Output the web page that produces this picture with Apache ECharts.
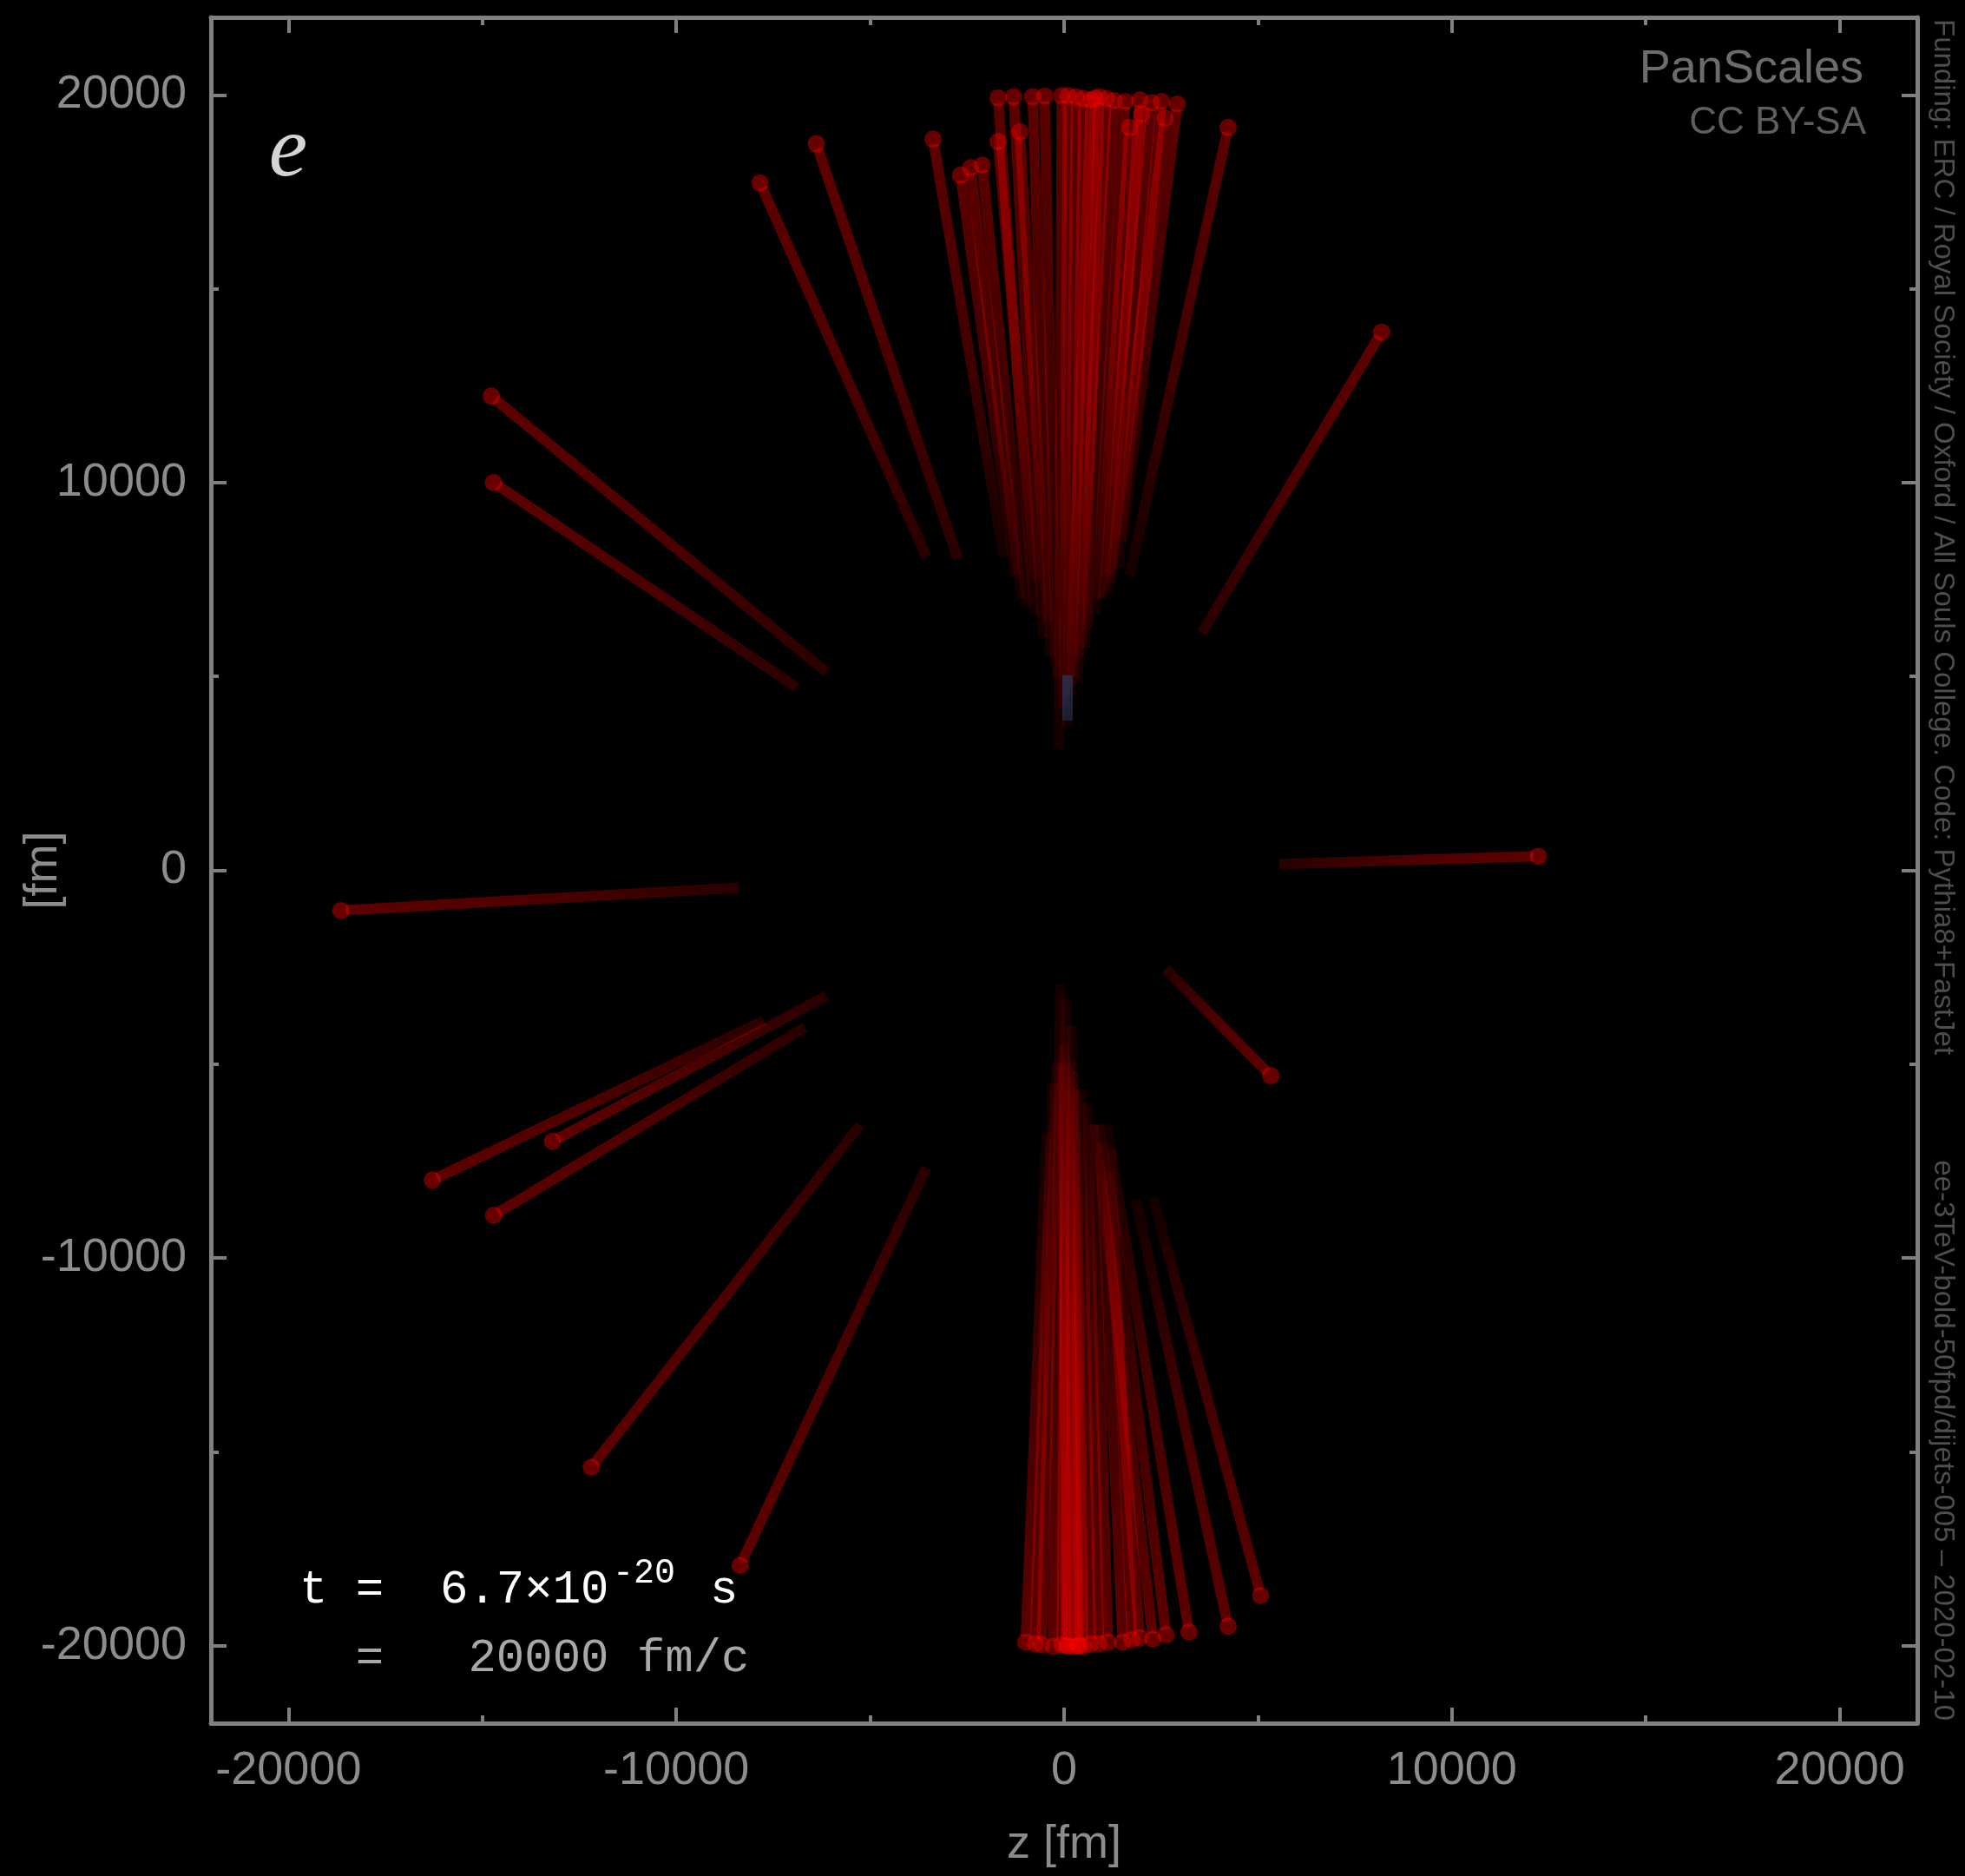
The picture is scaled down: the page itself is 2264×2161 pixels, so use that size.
<!DOCTYPE html>
<html>
<head>
<meta charset="utf-8">
<script src="https://cdn.jsdelivr.net/npm/echarts@6/dist/echarts.min.js"></script>
<style>
html,body{margin:0;padding:0;background:#000;}
#chart{width:2264px;height:2161px;}
</style>
</head>
<body>
<div id="chart"></div>
<script>
// Axis ticks (fm)
const axisMin = -22000;
const axisMax = 22000;
const tickValues = [-20000, -10000, 0, 10000, 20000];

// Tracks: [z_inner, y_inner, z_outer(current), y_outer(current)] in fm
const isolatedTracks = [
  [-8390, -450, -18650, -1040],
  [5550, 160, 12230, 360],
  [-6130, 5110, -14770, 12230],
  [-6900, 4720, -14710, 10000],
  [3550, 6120, 8190, 13880],
  [-3550, 8090, -7840, 17730],
  [-2740, 8030, -6390, 18740],
  [2620, -2540, 5330, -5300],
  [-7740, -3880, -16290, -7990],
  [-6130, -3240, -13190, -6990],
  [-6680, -4050, -14710, -8900],
  [-5260, -6570, -12190, -15400],
  [-3550, -7670, -8350, -17930]
];

const upperJet = [
  [-1550, 8080, -3380, 18860],
  [-1250, 7600, -2670, 17930],
  [-1100, 7000, -2410, 18120],
  [-950, 6800, -2110, 18190],
  [-770, 6590, -1700, 19920],
  [-750, 7500, -1700, 18800],
  [-550, 6000, -1300, 19950],
  [-430, 6400, -1140, 19050],
  [-350, 5500, -810, 19950],
  [-200, 5000, -500, 19970],
  [-130, 3120, -60, 19980],
  [0, 4200, 100, 19980],
  [90, 3710, 310, 19950],
  [150, 4500, 690, 19870],
  [250, 5000, 500, 19900],
  [350, 4800, 800, 19920],
  [400, 5500, 1100, 19900],
  [540, 5730, 910, 19950],
  [600, 6200, 1300, 19850],
  [800, 6600, 1580, 19830],
  [900, 7000, 1690, 19160],
  [1000, 7000, 2000, 19500],
  [1130, 7150, 1950, 19870],
  [1200, 7400, 2250, 19800],
  [1200, 7600, 2600, 19400],
  [1400, 7800, 2510, 19830],
  [1500, 8500, 2920, 19760],
  [1690, 7600, 4230, 19160]
];

const lowerJet = [
  [-450, -6770, -990, -19910],
  [-300, -5500, -750, -19950],
  [-200, -4940, -580, -19980],
  [-100, -2930, -280, -20020],
  [50, -3300, -60, -19980],
  [0, -4500, 50, -20000],
  [-50, -5000, 100, -20000],
  [150, -4940, 240, -20020],
  [200, -4000, 350, -20000],
  [250, -5200, 400, -20000],
  [300, -5650, 500, -20020],
  [450, -5650, 690, -19950],
  [600, -6000, 900, -19950],
  [750, -6550, 1130, -19910],
  [900, -6550, 1510, -19910],
  [1200, -7200, 1750, -19850],
  [1000, -7000, 1950, -19800],
  [800, -6550, 2290, -19830],
  [1130, -7780, 2630, -19720],
  [1100, -6550, 3220, -19650],
  [1850, -8490, 4230, -19500],
  [2300, -8450, 5070, -18710]
];

const blueTracks = [
  [90, 3860, 90, 5030]
];

const chart = echarts.init(document.getElementById('chart'), null, {renderer: 'canvas'});

const GRAY = '#808080';
const LABEL = '#8c8c8c';

function trackRenderer(rgb, aIn, aMid, aOut, withDot) {
  return function (params, api) {
    const a = api.coord([api.value(0), api.value(1)]);
    const b = api.coord([api.value(2), api.value(3)]);
    const r = 10;
    const dx = b[0] - a[0], dy = b[1] - a[1];
    const len = Math.sqrt(dx * dx + dy * dy) || 1;
    const cut = withDot ? r * 0.6 : 0;
    const e = [b[0] - dx / len * cut, b[1] - dy / len * cut];
    const grad = new echarts.graphic.LinearGradient(a[0], a[1], b[0], b[1], [
      {offset: 0, color: 'rgba(' + rgb + ',' + aIn + ')'},
      {offset: 0.5, color: 'rgba(' + rgb + ',' + aMid + ')'},
      {offset: 1, color: 'rgba(' + rgb + ',' + aOut + ')'}
    ], true);
    const children = [{
      type: 'line',
      shape: {x1: a[0], y1: a[1], x2: e[0], y2: e[1]},
      style: {stroke: grad, lineWidth: 12, lineCap: 'butt', fill: null}
    }];
    if (withDot) {
      children.push({
        type: 'circle',
        shape: {cx: b[0], cy: b[1], r: r},
        style: {fill: 'rgba(' + rgb + ',' + (aOut + 0.04) + ')', stroke: null}
      });
    }
    return {type: 'group', children: children};
  };
}

function valueAxis(pos, showLabel, extra) {
  return Object.assign({
    type: 'value',
    position: pos,
    min: axisMin,
    max: axisMax,
    splitNumber: 4,
    axisLine: {show: true, onZero: false, lineStyle: {color: GRAY, width: 5}},
    axisTick: {show: true, inside: true, length: 18, lineStyle: {color: GRAY, width: 4}},
    minorTick: {show: true, splitNumber: 2, length: 9, lineStyle: {color: GRAY, width: 4}},
    splitLine: {show: false},
    axisLabel: {
      show: showLabel,
      showMinLabel: false,
      showMaxLabel: false,
      color: LABEL,
      fontSize: 54,
      fontFamily: 'Liberation Sans',
      margin: 28,
      formatter: function (v) { return tickValues.indexOf(v) >= 0 ? String(v) : ''; }
    }
  }, extra || {});
}

const option = {
  backgroundColor: '#000',
  animation: false,
  textStyle: {fontFamily: 'Liberation Sans'},
  grid: {left: 243, right: 55, top: 20, bottom: 176, containLabel: false, outerBoundsMode: 'none'},
  xAxis: [
    valueAxis('bottom', true, {
      name: 'z [fm]', nameLocation: 'middle', nameGap: 113, nameMoveOverlap: false,
      nameTextStyle: {color: LABEL, fontSize: 54, fontFamily: 'Liberation Sans'}
    }),
    valueAxis('top', false)
  ],
  yAxis: [
    valueAxis('left', true, {
      name: '[fm]', nameLocation: 'middle', nameGap: 166, nameRotate: 90, nameMoveOverlap: false,
      nameTextStyle: {color: LABEL, fontSize: 54, fontFamily: 'Liberation Sans'}
    }),
    valueAxis('right', false)
  ],
  series: [
    {type: 'custom', name: 'isolated', xAxisIndex: 0, yAxisIndex: 0, clip: true,
     renderItem: trackRenderer('255,0,0', 0.16, 0.3, 0.37, true), data: isolatedTracks},
    {type: 'custom', name: 'upperJet', xAxisIndex: 0, yAxisIndex: 0, clip: true,
     renderItem: trackRenderer('255,0,0', 0.08, 0.26, 0.36, true), data: upperJet},
    {type: 'custom', name: 'lowerJet', xAxisIndex: 0, yAxisIndex: 0, clip: true,
     renderItem: trackRenderer('255,0,0', 0.08, 0.26, 0.36, true), data: lowerJet},
    {type: 'custom', name: 'blue', xAxisIndex: 0, yAxisIndex: 0, clip: true,
     renderItem: trackRenderer('30,100,170', 0.3, 0.35, 0.4, false), data: blueTracks}
  ],
  graphic: [
    {type: 'text', x: 332, y: 176, style: {text: 'e', fill: '#d4d4d4', font: 'italic 100px "Liberation Serif"', align: 'center', verticalAlign: 'middle', textAlign: 'center', textVerticalAlign: 'middle'}},
    {type: 'text', x: 2147, y: 80, style: {text: 'PanScales', fill: '#6c6c6c', font: '54px "Liberation Sans"', align: 'right', verticalAlign: 'middle', textAlign: 'right', textVerticalAlign: 'middle'}},
    {type: 'text', x: 2150, y: 142, style: {text: 'CC BY-SA', fill: '#5e5e5e', font: '44px "Liberation Sans"', align: 'right', verticalAlign: 'middle', textAlign: 'right', textVerticalAlign: 'middle'}},
    {type: 'text', x: 2238, y: 22, rotation: -Math.PI / 2, style: {text: 'Funding: ERC / Royal Society / Oxford / All Souls College. Code: Pythia8+FastJet', fill: '#4e4e4e', font: '33px "Liberation Sans"', align: 'left', verticalAlign: 'middle', textAlign: 'left', textVerticalAlign: 'middle'}},
    {type: 'text', x: 2238, y: 1982, rotation: -Math.PI / 2, style: {text: 'ee-3TeV-bold-50fpd/dijets-005 \u2013 2020-02-10', fill: '#4e4e4e', font: '33px "Liberation Sans"', align: 'right', verticalAlign: 'middle', textAlign: 'right', textVerticalAlign: 'middle'}},
    {type: 'text', x: 345, y: 1832, style: {text: 't =  6.7\u00d710', fill: '#ffffff', font: '54px "Liberation Mono"', align: 'left', verticalAlign: 'middle', textAlign: 'left', textVerticalAlign: 'middle'}},
    {type: 'text', x: 706, y: 1812, style: {text: '-20', fill: '#ffffff', font: '40px "Liberation Mono"', align: 'left', verticalAlign: 'middle', textAlign: 'left', textVerticalAlign: 'middle'}},
    {type: 'text', x: 818, y: 1832, style: {text: 's', fill: '#ffffff', font: '54px "Liberation Mono"', align: 'left', verticalAlign: 'middle', textAlign: 'left', textVerticalAlign: 'middle'}},
    {type: 'text', x: 345, y: 1911, style: {text: '  =   20000 fm/c', fill: '#a8a8a8', font: '54px "Liberation Mono"', align: 'left', verticalAlign: 'middle', textAlign: 'left', textVerticalAlign: 'middle'}}
  ]
};

chart.setOption(option);
</script>
</body>
</html>
